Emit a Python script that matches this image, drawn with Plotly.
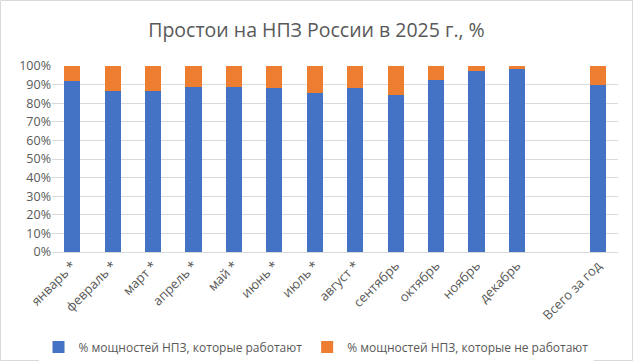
import plotly.graph_objects as go

categories = ["январь *", "февраль *", "март *", "апрель *", "май *", "июнь *",
              "июль *", "август *", "сентябрь", "октябрь", "ноябрь", "декабрь",
              " ", "Всего за год"]
working = [91.8, 86.4, 86.4, 88.6, 88.6, 88.0, 85.3, 88.0, 84.3, 92.3, 97.1, 98.2, None, 89.6]
not_working = [8.2, 13.6, 13.6, 11.4, 11.4, 12.0, 14.7, 12.0, 15.7, 7.7, 2.9, 1.8, None, 10.4]

W, H = 633, 361
ml, mr, mt, mb = 52, 15, 66, 109
pw, ph = W - ml - mr, H - mt - mb

fig = go.Figure()
fig.add_trace(go.Bar(x=categories, y=working, name="% мощностей НПЗ, которые работают",
                     marker_color="#4472C4", marker_line_width=0))
fig.add_trace(go.Bar(x=categories, y=not_working, name="% мощностей НПЗ, которые не работают",
                     marker_color="#ED7D31", marker_line_width=0))

fig.update_layout(
    width=W, height=H,
    margin=dict(l=ml, r=mr, t=mt, b=mb, autoexpand=False),
    barmode="stack", bargap=0.6,
    paper_bgcolor="white", plot_bgcolor="white",
    font=dict(family="Open Sans", color="#595959", size=12),
    title=dict(text="Простои на НПЗ России в 2025 г., %", x=0.5, xanchor="center",
               y=1 - 30 / H, yanchor="middle",
               font=dict(size=19.5, color="#595959", family="Open Sans")),
    xaxis=dict(type="category", categoryorder="array", categoryarray=categories,
               tickangle=-45, showgrid=False, showline=True, linecolor="#d9d9d9",
               ticks="", automargin=False, tickfont=dict(size=13, color="#595959")),
    yaxis=dict(range=[0, 100], dtick=10, ticksuffix="%", showgrid=True,
               gridcolor="#d9d9d9", gridwidth=1, zeroline=False, ticks="",
               automargin=False, tickfont=dict(size=12.5, color="#595959")),
    legend=dict(orientation="h", x=(316 - ml) / pw, xanchor="center",
                y=-(347 - mt - ph) / ph, yanchor="middle", traceorder="normal",
                itemwidth=30, font=dict(size=12, color="#595959")),
    shapes=[dict(type="rect", xref="paper", yref="paper",
                 x0=-(ml - 0.5) / pw, x1=(W - ml - 0.5) / pw,
                 y0=-(mb - 0.5) / ph, y1=(H - mb - 0.5) / ph,
                 line=dict(color="#d9d9d9", width=1), layer="below")],
)

fig.write_html("out.html", config={"displayModeBar": False},
               post_script="document.body.style.margin='0';")
